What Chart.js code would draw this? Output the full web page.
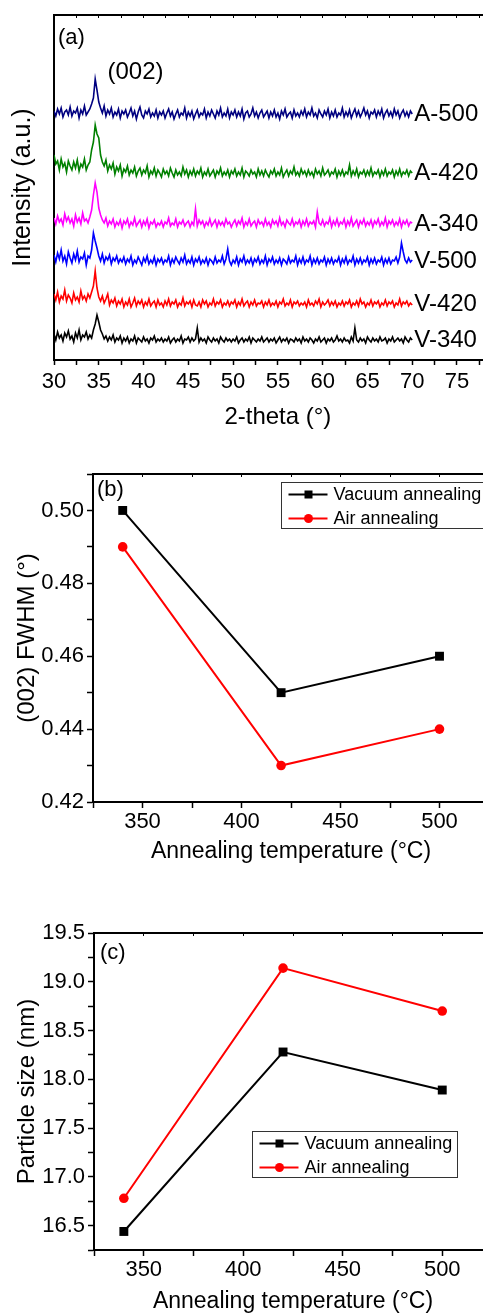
<!DOCTYPE html>
<html>
<head>
<meta charset="utf-8">
<script src="https://cdn.jsdelivr.net/npm/chart.js@4/dist/chart.umd.min.js"></script>
<style>
  html, body { margin: 0; padding: 0; background: #fff; overflow: hidden; width: 483px; height: 1313px; }
  canvas { position: absolute; left: 0; }
</style>
</head>
<body>
<canvas id="xrd" width="520" height="440" style="top:0"></canvas>
<canvas id="fwhm" width="520" height="430" style="top:440px"></canvas>
<canvas id="size" width="520" height="443" style="top:870px"></canvas>
<script>
// (a) XRD patterns, 2-theta from 30 to 70 in 0.2 steps, arbitrary intensity (stacked)
const thetaStart = 30
const thetaStep = 0.2
const traceNames = ['A-500', 'A-420', 'A-340', 'V-500', 'V-420', 'V-340']
const traceColors = ['#000080', '#008000', '#ff00ff', '#0000ff', '#ff0000', '#000000']

const a500 = [
  249, 244, 251, 246, 252, 243, 248, 250, 245, 253, 244, 249, 247, 252, 242, 250, 246, 254, 245, 248,
  251, 256, 262, 281, 270, 258, 252, 247, 254, 244, 250, 246, 252, 243, 248, 245, 251, 242, 249, 246,
  250, 243, 247, 252, 244, 249, 241, 248, 253, 245, 242, 249, 246, 251, 243, 247, 244, 250, 242, 248,
  245, 249, 242, 247, 251, 244, 248, 241, 246, 250, 243, 247, 245, 252, 242, 248, 244, 249, 241, 246,
  250, 243, 247, 245, 251, 242, 248, 244, 250, 246, 242, 249, 245, 252, 243, 247, 244, 251, 242, 248,
  245, 250, 243, 248, 244, 251, 241, 247, 249, 243, 246, 252, 244, 248, 242, 247, 250, 243, 246, 249,
  242, 248, 244, 250, 243, 247, 241, 249, 245, 251, 243, 246, 248, 242, 250, 244, 247, 243, 249, 245,
  251, 243, 248, 245, 252, 244, 247, 242, 250, 246, 243, 249, 245, 251, 242, 248, 244, 250, 243, 247,
  245, 252, 243, 248, 244, 250, 242, 247, 251, 244, 249, 243, 247, 252, 245, 249, 242, 248, 246, 250,
  243, 249, 245, 251, 242, 247, 250, 244, 248, 243, 251, 245, 249, 242, 247, 250, 244, 248, 243, 249,
  246
]
const a420 = [
  205, 196, 199, 190, 201, 193, 197, 188, 199, 194, 190, 198, 192, 200, 189, 196, 193, 201, 190, 195,
  198, 210, 218, 235, 226, 222, 205, 198, 194, 200, 189, 195, 191, 197, 186, 193, 189, 195, 184, 191,
  188, 194, 185, 190, 187, 193, 184, 189, 192, 185, 190, 187, 194, 183, 189, 186, 192, 184, 190, 187,
  183, 191, 186, 189, 184, 192, 187, 183, 190, 185, 188, 184, 193, 186, 190, 183, 189, 185, 191, 184,
  189, 186, 192, 183, 188, 185, 191, 184, 187, 190, 183, 189, 186, 192, 184, 188, 185, 190, 183, 189,
  186, 191, 184, 188, 185, 192, 183, 189, 187, 184, 190, 186, 188, 183, 191, 185, 189, 184, 190, 186,
  183, 189, 186, 191, 184, 188, 185, 192, 183, 187, 190, 184, 189, 186, 193, 185, 188, 184, 191, 186,
  189, 184, 190, 185, 188, 183, 191, 186, 189, 184, 192, 185, 187, 190, 184, 188, 186, 191, 183, 189,
  185, 190, 184, 188, 186, 195, 184, 189, 185, 191, 183, 188, 186, 190, 184, 189, 185, 192, 184, 188,
  186, 190, 183, 189, 185, 191, 184, 188, 186, 190, 183, 189, 185, 191, 184, 188, 186, 190, 184, 189,
  187
]
const a340 = [
  142, 136, 144, 138, 141, 135, 146, 139, 143, 137, 141, 134, 145, 138, 142, 136, 147, 139, 141, 137,
  143, 150, 165, 177, 168, 152, 145, 140, 137, 142, 134, 139, 136, 141, 133, 138, 135, 140, 132, 139,
  136, 141, 133, 138, 135, 142, 134, 137, 140, 133, 139, 135, 141, 132, 138, 136, 140, 133, 137, 135,
  139, 133, 138, 136, 142, 134, 137, 135, 141, 133, 138, 136, 140, 134, 137, 139, 133, 138, 135, 151,
  134, 140, 136, 139, 133, 138, 135, 141, 134, 137, 140, 133, 139, 135, 138, 134, 141, 136, 138, 133,
  137, 140, 134, 139, 136, 142, 133, 138, 135, 141, 134, 137, 139, 133, 140, 136, 138, 134, 141, 135,
  138, 133, 140, 136, 139, 134, 142, 135, 138, 133, 140, 137, 135, 141, 134, 138, 136, 140, 133, 139,
  135, 141, 134, 138, 136, 139, 133, 148, 137, 135, 140, 134, 138, 136, 142, 133, 139, 135, 141, 134,
  138, 136, 141, 133, 139, 135, 142, 134, 137, 140, 133, 139, 136, 141, 134, 138, 135, 140, 133, 139,
  136, 141, 134, 138, 135, 142, 133, 139, 136, 140, 134, 138, 135, 141, 133, 139, 136, 140, 134, 138,
  137
]
const v500 = [
  105, 98, 107, 101, 110, 99, 104, 96, 108, 102, 97, 106, 100, 109, 98, 103, 101, 107, 95, 104,
  102, 110, 127, 119, 112, 104, 99, 106, 97, 103, 100, 105, 96, 102, 99, 104, 97, 101, 98, 103,
  96, 101, 98, 104, 95, 100, 97, 103, 99, 95, 102, 98, 104, 96, 100, 97, 103, 95, 101, 98,
  102, 96, 100, 98, 104, 95, 101, 97, 103, 99, 96, 102, 98, 105, 96, 100, 97, 103, 95, 101,
  98, 103, 96, 100, 97, 102, 95, 101, 99, 96, 103, 97, 100, 98, 104, 96, 101, 111, 99, 95,
  100, 97, 103, 95, 101, 98, 104, 96, 100, 97, 102, 95, 101, 98, 103, 96, 100, 97, 104, 95,
  101, 98, 103, 96, 100, 97, 102, 95, 101, 99, 96, 103, 97, 100, 98, 104, 95, 101, 97, 103,
  96, 100, 98, 104, 95, 101, 97, 102, 96, 100, 98, 103, 95, 101, 97, 102, 96, 100, 98, 103,
  95, 101, 97, 103, 96, 100, 98, 104, 95, 101, 97, 102, 96, 100, 98, 103, 95, 101, 97, 102,
  96, 100, 98, 103, 95, 101, 97, 102, 96, 100, 99, 103, 97, 103, 117, 108, 100, 97, 102, 98,
  100
]
const v420 = [
  66, 60, 68, 58, 64, 61, 70, 59, 65, 62, 57, 67, 60, 63, 58, 69, 61, 64, 59, 66,
  62, 68, 74, 89, 72, 63, 59, 64, 57, 61, 66, 55, 60, 57, 62, 54, 59, 56, 61, 53,
  58, 55, 61, 53, 57, 62, 54, 59, 56, 60, 53, 58, 55, 61, 54, 57, 59, 53, 60, 55,
  57, 53, 59, 55, 61, 54, 58, 56, 60, 53, 57, 55, 62, 54, 58, 56, 59, 53, 60, 55,
  54, 58, 53, 60, 56, 59, 53, 57, 55, 61, 54, 58, 56, 60, 53, 57, 55, 59, 54, 58,
  56, 60, 53, 58, 55, 61, 54, 57, 59, 53, 58, 55, 60, 54, 57, 56, 59, 53, 58, 55,
  60, 54, 57, 55, 59, 53, 58, 56, 61, 54, 57, 55, 60, 53, 58, 56, 59, 54, 57, 55,
  58, 53, 60, 55, 57, 54, 59, 56, 61, 53, 58, 55, 57, 60, 54, 58, 55, 59, 53, 57,
  55, 59, 54, 58, 56, 60, 53, 57, 55, 59, 54, 61, 56, 58, 53, 57, 55, 60, 54, 58,
  56, 59, 53, 57, 55, 60, 54, 58, 56, 59, 53, 57, 55, 61, 54, 58, 56, 59, 54, 57,
  55
]
const v340 = [
  26, 20, 28, 22, 25, 19, 27, 23, 29, 21, 24, 18, 27, 22, 30, 20, 25, 23, 28, 21,
  25, 22, 30, 36, 45, 38, 30, 26, 21, 24, 19, 23, 20, 25, 18, 22, 20, 24, 17, 22,
  19, 23, 17, 21, 19, 24, 17, 22, 20, 18, 23, 19, 21, 17, 22, 20, 24, 18, 21, 19,
  22, 18, 21, 19, 23, 17, 20, 22, 18, 21, 19, 24, 17, 21, 20, 23, 18, 22, 19, 21,
  32, 18, 22, 19, 21, 17, 23, 20, 18, 22, 19, 21, 17, 23, 20, 18, 22, 19, 21, 18,
  21, 19, 23, 17, 20, 22, 18, 21, 19, 23, 17, 22, 20, 18, 21, 19, 23, 18, 20, 22,
  18, 21, 19, 22, 17, 20, 23, 18, 21, 19, 22, 17, 21, 20, 18, 22, 19, 21, 17, 23,
  19, 21, 18, 22, 20, 17, 21, 19, 23, 18, 20, 22, 17, 21, 19, 22, 18, 20, 24, 19,
  21, 18, 22, 19, 20, 17, 23, 19, 32, 20, 18, 22, 19, 21, 17, 23, 20, 18, 22, 19,
  21, 18, 23, 19, 20, 22, 17, 21, 19, 23, 18, 20, 22, 19, 21, 17, 23, 20, 18, 22,
  20
]
const traces = [a500, a420, a340, v500, v420, v340]

// (b) and (c): annealing temperature series
const temperatures = [340, 420, 500]
const fwhmVacuum = [0.50, 0.45, 0.46]
const fwhmAir = [0.49, 0.43, 0.44]
const sizeVacuum = [16.44, 18.28, 17.89]
const sizeAir = [16.78, 19.14, 18.70]

const FONT = "'Liberation Sans', Arial, Helvetica, sans-serif"
Chart.defaults.font.family = FONT
Chart.defaults.color = '#000'

const fontSpec = size => ({ family: FONT, size: size, lineHeight: 1 })

// plain black axis with outward tick marks only
function axis(extra) {
  return Object.assign({
    type: 'linear',
    grid: { drawOnChartArea: false, drawTicks: true, tickLength: 6, tickColor: '#000', tickWidth: 1.5 },
    border: { color: '#000', width: 2 }
  }, extra)
}

// top frame line with tiny inward ticks
function topAxis(min, max, step) {
  return {
    type: 'linear', position: 'top', min: min, max: max,
    ticks: { display: false, stepSize: step },
    grid: { drawOnChartArea: false, drawTicks: true, tickLength: -3, tickColor: '#000', tickWidth: 1 },
    border: { color: '#000', width: 2 },
    afterFit: s => { s.height = 0 }
  }
}

const panelLetter = (text, dx, dy) => ({
  id: 'panelLetter',
  afterDraw(chart) {
    const { ctx, chartArea } = chart
    ctx.save()
    ctx.font = '22px ' + FONT
    ctx.fillStyle = '#000'
    ctx.textBaseline = 'middle'
    ctx.fillText(text, chartArea.left + dx, chartArea.top + dy)
    ctx.restore()
  }
})

const boxLegend = (dx, dy) => ({
  id: 'boxLegend',
  afterDraw(chart) {
    const { ctx, chartArea } = chart
    const x = Math.round(chartArea.left + dx) + 0.5
    const y = Math.round(chartArea.top + dy) + 0.5
    ctx.save()
    ctx.lineWidth = 1
    ctx.strokeStyle = '#333'
    ctx.strokeRect(x, y, 205, 46)
    ctx.font = '18px ' + FONT
    ctx.textBaseline = 'middle'
    chart.data.datasets.forEach((ds, i) => {
      const cy = y + 12 + i * 24
      ctx.strokeStyle = ds.borderColor
      ctx.fillStyle = ds.borderColor
      ctx.lineWidth = 2
      ctx.beginPath()
      ctx.moveTo(x + 7, cy)
      ctx.lineTo(x + 46, cy)
      ctx.stroke()
      if (ds.pointStyle === 'rect') {
        ctx.fillRect(x + 23, cy - 4, 8, 8)
      } else {
        ctx.beginPath()
        ctx.arc(x + 27, cy, 4.5, 0, Math.PI * 2)
        ctx.fill()
      }
      ctx.fillStyle = '#000'
      ctx.fillText(ds.label, x + 52, cy + 1)
    })
    ctx.restore()
  }
})

// sample tags at the right end of each trace, and the (002) peak label
const traceTags = {
  id: 'traceTags',
  afterDatasetsDraw(chart) {
    const { ctx, scales: { x, y } } = chart
    ctx.save()
    ctx.font = '24px ' + FONT
    ctx.fillStyle = '#000'
    ctx.textBaseline = 'middle'
    chart.data.datasets.forEach(ds => {
      const tail = ds.data.slice(-40).map(p => p.y)
      const level = tail.reduce((s, v) => s + v, 0) / tail.length
      ctx.fillText(ds.label, x.getPixelForValue(70) + 2, y.getPixelForValue(level) + 1)
    })
    ctx.textAlign = 'center'
    ctx.fillText('(002)', x.getPixelForValue(39.1), y.getPixelForValue(288))
    ctx.restore()
  }
}

new Chart('xrd', {
  type: 'line',
  data: {
    datasets: traces.map((arr, k) => ({
      label: traceNames[k],
      data: arr.map((v, i) => ({ x: thetaStart + i * thetaStep, y: v })),
      borderColor: traceColors[k],
      borderWidth: 1.6,
      pointRadius: 0,
      tension: 0
    }))
  },
  options: {
    responsive: false,
    animation: false,
    events: [],
    layout: { padding: { top: 15, right: 14, left: 0, bottom: 0 } },
    plugins: { legend: { display: false }, tooltip: { enabled: false } },
    scales: {
      x: axis({
        position: 'bottom', min: 30, max: 80,
        ticks: {
          stepSize: 2.5, autoSkip: false, maxRotation: 0, padding: 6,
          font: fontSpec(22),
          callback: v => (v % 5 === 0 ? v : '')
        },
        grid: { drawOnChartArea: false, drawTicks: true, tickLength: 5, tickColor: '#000', tickWidth: 1.5 },
        title: { display: true, text: '2-theta (°)', font: fontSpec(24), padding: { top: 0, bottom: 11 } },
        afterFit: s => { s.height = 80 }
      }),
      xTop: topAxis(30, 80, 2.5),
      y: axis({
        position: 'left', min: 0, max: 345,
        ticks: { display: false },
        grid: { drawOnChartArea: false, drawTicks: false },
        title: { display: true, text: 'Intensity (a.u.)', font: fontSpec(25), padding: { top: 11, bottom: 0 } },
        afterFit: s => { s.width = 54 }
      })
    }
  },
  plugins: [traceTags, panelLetter('(a)', 4, 23)]
})

function tempChart(id, vac, air, yOpts, pad, xHeight, yWidth, letter, legendPos, yTitle) {
  return new Chart(id, {
    type: 'line',
    data: {
      datasets: [
        {
          label: 'Vacuum annealing',
          data: temperatures.map((t, i) => ({ x: t, y: vac[i] })),
          borderColor: '#000000', backgroundColor: '#000000',
          borderWidth: 2, pointStyle: 'rect', pointRadius: 6.3, pointBorderWidth: 0, tension: 0
        },
        {
          label: 'Air annealing',
          data: temperatures.map((t, i) => ({ x: t, y: air[i] })),
          borderColor: '#ff0000', backgroundColor: '#ff0000',
          borderWidth: 2, pointStyle: 'circle', pointRadius: 4.8, pointBorderWidth: 0, tension: 0
        }
      ]
    },
    options: {
      responsive: false,
      animation: false,
      events: [],
      layout: { padding: pad },
      plugins: { legend: { display: false }, tooltip: { enabled: false } },
      scales: {
        x: axis({
          position: 'bottom', min: 325, max: 525,
          ticks: {
            stepSize: 25, autoSkip: false, maxRotation: 0, padding: 3,
            font: fontSpec(22),
            callback: v => (v % 50 === 0 ? v : '')
          },
          title: { display: true, text: 'Annealing temperature (°C)', font: fontSpec(23), padding: { top: 0, bottom: xHeight.titlePad } },
          afterFit: s => { s.height = xHeight.h }
        }),
        xTop: topAxis(325, 525, 25),
        y: axis(Object.assign({
          position: 'left',
          title: { display: true, text: yTitle, font: fontSpec(24), padding: { top: 15, bottom: 0 } },
          afterFit: s => { s.width = yWidth }
        }, yOpts))
      }
    },
    plugins: [panelLetter(letter.text, letter.dx, letter.dy), boxLegend(legendPos.dx, legendPos.dy)]
  })
}

tempChart('fwhm', fwhmVacuum, fwhmAir,
  {
    min: 0.42, max: 0.51,
    ticks: {
      stepSize: 0.01, autoSkip: false, padding: 3, font: fontSpec(22),
      callback: v => { const k = Math.round(v * 100); return k % 2 === 0 ? (k / 100).toFixed(2) : '' }
    }
  },
  { top: 34, right: 31, left: 0, bottom: 0 },
  { h: 68, titlePad: 7 }, 93,
  { text: '(b)', dx: 4, dy: 16 },
  { dx: 188, dy: 8 },
  '(002) FWHM (°)')

tempChart('size', sizeVacuum, sizeAir,
  {
    min: 16.25, max: 19.5,
    ticks: {
      stepSize: 0.25, autoSkip: false, padding: 3, font: fontSpec(22),
      callback: v => (Math.round(v * 4) % 2 === 0 ? v.toFixed(1) : '')
    }
  },
  { top: 63, right: 28, left: 0, bottom: 0 },
  { h: 63, titlePad: 0 }, 94,
  { text: '(c)', dx: 6, dy: 20 },
  { dx: 158, dy: 198 },
  'Particle size (nm)')
</script>
</body>
</html>
